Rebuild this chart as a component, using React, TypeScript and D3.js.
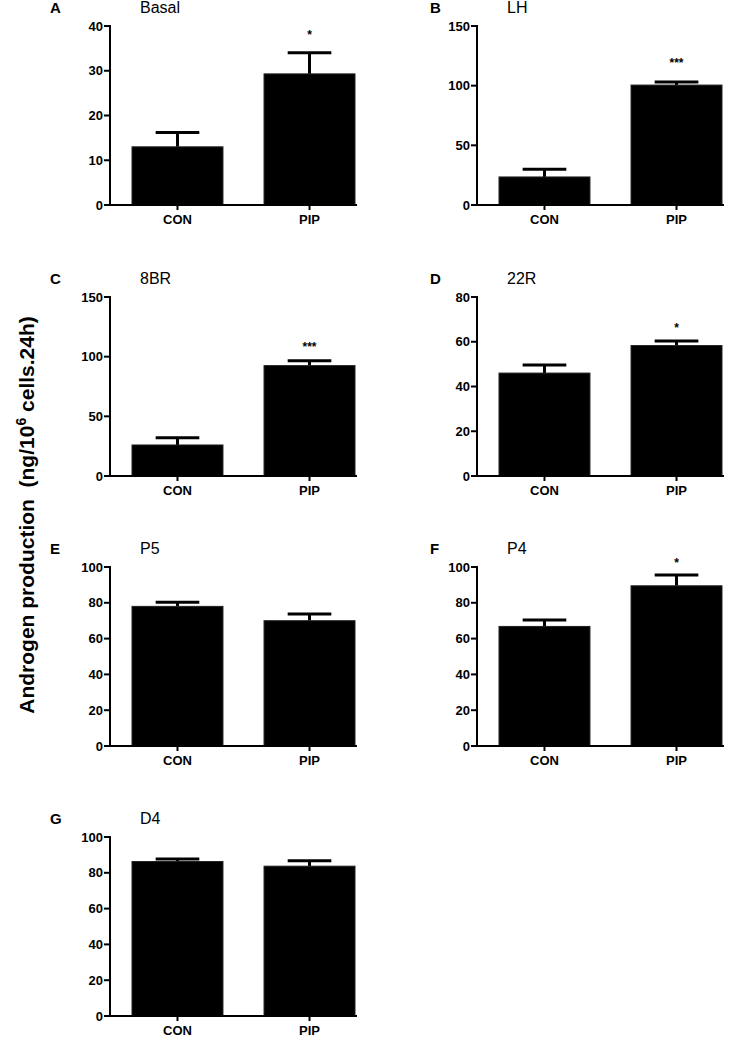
import React from "react";
import * as d3 from "d3";

const categories = ["CON", "PIP"];
const panelLetters = ["A", "B", "C", "D", "E", "F", "G"];
const panelTitles = ["Basal", "LH", "8BR", "22R", "P5", "P4", "D4"];
const meanValues = [
  [13, 29.3],
  [23.5, 100.5],
  [26, 92.5],
  [46, 58.3],
  [78, 70],
  [66.8, 89.5],
  [86.3, 83.7],
];
const semValues = [
  [3.2, 4.7],
  [6.5, 2.5],
  [6, 4],
  [3.6, 2],
  [2.3, 3.7],
  [3.6, 6],
  [1.4, 3],
];
const yMax = [40, 150, 150, 80, 100, 100, 100];
const yTicks = [
  [0, 10, 20, 30, 40],
  [0, 50, 100, 150],
  [0, 50, 100, 150],
  [0, 20, 40, 60, 80],
  [0, 20, 40, 60, 80, 100],
  [0, 20, 40, 60, 80, 100],
  [0, 20, 40, 60, 80, 100],
];
const significance = ["*", "***", "***", "*", "", "*", ""];
const sigGap = [21, 22, 17, 16, 0, 15, 0];

const colAxisX = [110, 477];
const rowTop = [26, 297, 567, 837];
const plotH = 179;
const letterDx = [-60, -47];
const FONT = "Arial, 'Liberation Sans', Helvetica, sans-serif";

function Panel({ i }: { i: number }) {
  const col = i % 2;
  const row = Math.floor(i / 2);
  const ax = colAxisX[col];
  const top = rowTop[row];
  const bottom = top + plotH;
  const x = d3
    .scaleBand<string>()
    .domain(categories)
    .range([ax + 22, ax + 245])
    .paddingInner(0.311)
    .paddingOuter(0);
  const y = d3.scaleLinear().domain([0, yMax[i]]).range([bottom, top]);
  const bw = x.bandwidth();
  const capW = bw * 0.48;
  return (
    <g>
      <text x={ax + letterDx[col]} y={top - 13} fontFamily={FONT} fontWeight="bold" fontSize={15}>
        {panelLetters[i]}
      </text>
      <text x={ax + 30} y={top - 13} fontFamily={FONT} fontSize={16}>
        {panelTitles[i]}
      </text>
      {categories.map((c, j) => {
        const v = meanValues[i][j];
        const e = v + semValues[i][j];
        const cx = (x(c) as number) + bw / 2;
        return (
          <g key={c}>
            <line x1={cx} x2={cx} y1={y(v)} y2={y(e)} stroke="#000" strokeWidth={3} />
            <line x1={cx - capW / 2} x2={cx + capW / 2} y1={y(e)} y2={y(e)} stroke="#000" strokeWidth={3} />
            <rect x={x(c)} y={y(v)} width={bw} height={bottom - y(v)} fill="#000" stroke="#222" strokeWidth={1} />
            {j === 1 && significance[i] && (
              <text
                x={cx}
                y={y(e) - sigGap[i] + 7}
                textAnchor="middle"
                fontFamily={FONT}
                fontWeight="bold"
                fontSize={12}
              >
                {significance[i]}
              </text>
            )}
            <line x1={cx} x2={cx} y1={bottom} y2={bottom + 5} stroke="#000" strokeWidth={2} />
            <text
              x={cx}
              y={bottom + 19}
              textAnchor="middle"
              fontFamily={FONT}
              fontWeight="bold"
              fontSize={13}
            >
              {c}
            </text>
          </g>
        );
      })}
      <line x1={ax} x2={ax} y1={top - 1} y2={bottom + 1} stroke="#000" strokeWidth={2} />
      <line x1={ax - 1} x2={ax + 247} y1={bottom} y2={bottom} stroke="#000" strokeWidth={2} />
      {yTicks[i].map((t) => (
        <g key={t}>
          <line x1={ax - 6} x2={ax} y1={y(t)} y2={y(t)} stroke="#000" strokeWidth={2} />
          <text
            x={ax - 7}
            y={y(t)}
            dy="0.35em"
            textAnchor="end"
            fontFamily={FONT}
            fontWeight="bold"
            fontSize={13}
          >
            {t}
          </text>
        </g>
      ))}
    </g>
  );
}

export default function App() {
  return (
    <svg
      width={751}
      height={1037}
      style={{ position: "absolute", left: 0, top: 0, background: "#fff" }}
    >
      <rect width={751} height={1037} fill="#fff" />
      <text
        transform="translate(34,515) rotate(-90)"
        textAnchor="middle"
        fontFamily={FONT}
        fontWeight="bold"
        fontSize={21}
        xmlSpace="preserve"
      >
        <tspan>Androgen production  (ng/10</tspan>
        <tspan dy={-8} fontSize={14}>6</tspan>
        <tspan dy={8}> cells.24h)</tspan>
      </text>
      {panelTitles.map((_, i) => (
        <Panel key={i} i={i} />
      ))}
    </svg>
  );
}
